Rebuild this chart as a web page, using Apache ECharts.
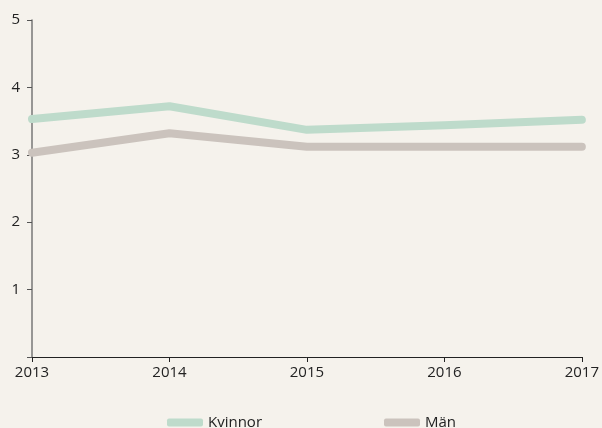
<!DOCTYPE html>
<html><head><meta charset="utf-8">
<script src="https://cdn.jsdelivr.net/npm/echarts@6/dist/echarts.min.js"></script>
<style>html,body{margin:0;padding:0;background:#f5f2ec;}#c{width:602px;height:428px;}</style>
</head><body><div id="c"></div>
<script>
const years = ['2013','2014','2015','2016','2017'];
const kvinnor = [3.53, 3.72, 3.37, 3.44, 3.52];
const man = [3.03, 3.32, 3.12, 3.12, 3.12];
const seriesNames = ['Kvinnor','Män'];
const colors = ['#bedbcb','#cbc3bd'];
const chart = echarts.init(document.getElementById('c'));
const font = 'Open Sans';
chart.setOption({
  backgroundColor:'#f5f2ec',
  animation:false,
  grid:{left:32,right:20,top:20,bottom:71,containLabel:false},
  legend:[
    {data:[seriesNames[0]],left:162,top:410,itemWidth:36,itemHeight:8,itemGap:0,textStyle:{fontFamily:font,fontSize:15,color:'#222'},icon:'roundRect'},
    {data:[seriesNames[1]],left:379,top:410,itemWidth:36,itemHeight:8,itemGap:0,textStyle:{fontFamily:font,fontSize:15,color:'#222'},icon:'roundRect'}
  ],
  xAxis:{type:'category',data:years,boundaryGap:false,
    axisLine:{lineStyle:{color:'#222',width:1}},
    axisTick:{show:true,length:5,lineStyle:{color:'#222'}},
    axisLabel:{fontFamily:font,fontSize:15,color:'#222',margin:8}},
  yAxis:{type:'value',min:0,max:5,interval:1,
    axisLine:{show:true,lineStyle:{color:'#777',width:1.5}},
    axisTick:{show:true,length:5,lineStyle:{color:'#555'}},
    splitLine:{show:false},
    axisLabel:{fontFamily:font,fontSize:15,color:'#222',margin:12,formatter:v=>v===0?'':v}},
  series:[
    {name:seriesNames[0],type:'line',data:kvinnor,symbol:'none',color:colors[0],lineStyle:{width:8,color:colors[0],cap:'round',join:'round'}},
    {name:seriesNames[1],type:'line',data:man,symbol:'none',color:colors[1],lineStyle:{width:8,color:colors[1],cap:'round',join:'round'}}
  ]
});
</script></body></html>
